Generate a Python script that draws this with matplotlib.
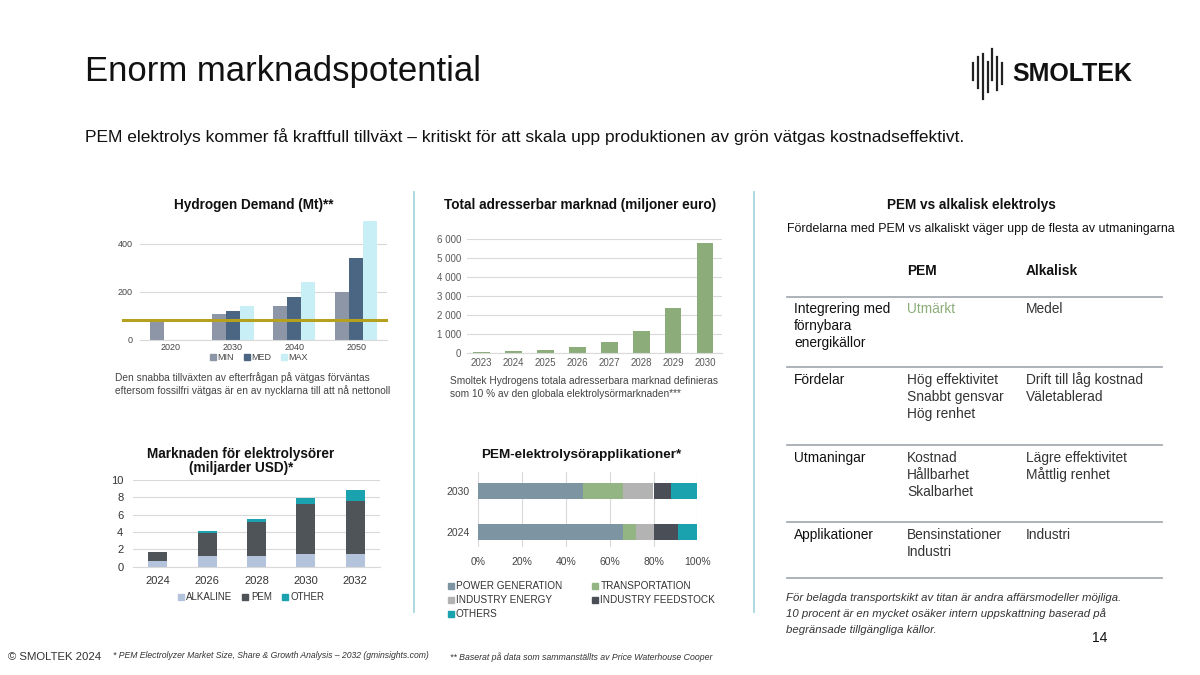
import matplotlib
matplotlib.use("Agg")
import matplotlib.pyplot as plt
from matplotlib.lines import Line2D
from matplotlib.ticker import FuncFormatter

plt.rcParams['font.family'] = ['Liberation Sans', 'DejaVu Sans']

W, H = 1200, 675

# ================================
# Data
# ================================
h2_years = ["2020", "2030", "2040", "2050"]
h2_min = [80, 110, 140, 200]
h2_med = [0, 120, 180, 340]
h2_max = [0, 140, 240, 495]
h2_today = 83

tam_years = ["2023", "2024", "2025", "2026", "2027", "2028", "2029", "2030"]
tam_values = [37, 75, 155, 300, 580, 1170, 2350, 5780]

ely_years = ["2024", "2026", "2028", "2030", "2032"]
ely_alkaline = [0.65, 1.2, 1.2, 1.5, 1.5]
ely_pem = [1.05, 2.65, 3.9, 5.7, 6.1]
ely_other = [0.0, 0.25, 0.45, 0.75, 1.25]

app_years = ["2024", "2030"]
app_labels = ["POWER GENERATION", "TRANSPORTATION", "INDUSTRY ENERGY",
              "INDUSTRY FEEDSTOCK", "OTHERS"]
app_2024 = [66, 6, 8, 11, 9]
app_2030 = [48, 18, 14, 8, 12]

tbl_rows = ["Integrering med\nförnybara\nenergikällor", "Fördelar", "Utmaningar", "Applikationer"]
tbl_pem = ["Utmärkt", "Hög effektivitet\nSnabbt gensvar\nHög renhet",
           "Kostnad\nHållbarhet\nSkalbarhet", "Bensinstationer\nIndustri"]
tbl_alk = ["Medel", "Drift till låg kostnad\nVäletablerad",
           "Lägre effektivitet\nMåttlig renhet", "Industri"]

# ================================
# Helpers (pixel coordinates, origin top-left)
# ================================
fig = plt.figure(figsize=(12, 6.75), dpi=100)
fig.patch.set_facecolor("white")


def ax_px(x0, y0, x1, y1):
    return fig.add_axes([x0 / W, 1 - y1 / H, (x1 - x0) / W, (y1 - y0) / H])


def txt(x, y, s, **kw):
    kw.setdefault("va", "center")
    return fig.text(x / W, 1 - y / H, s, **kw)


def hline(x0, x1, y, **kw):
    fig.add_artist(Line2D([x0 / W, x1 / W], [1 - y / H, 1 - y / H], **kw))


def vline(x, y0, y1, **kw):
    fig.add_artist(Line2D([x / W, x / W], [1 - y0 / H, 1 - y1 / H], **kw))


def clean(ax, grid_axis="y"):
    for s in ["top", "right", "left", "bottom"]:
        ax.spines[s].set_visible(False)
    ax.grid(True, axis=grid_axis, color="#d9d9d9", lw=0.8)
    ax.set_axisbelow(True)
    ax.tick_params(length=0)


def sq(color):
    return Line2D([], [], marker="s", ls="", color=color, markersize=4.5)


# ================================
# Header
# ================================
txt(85, 72, "Enorm marknadspotential", fontsize=25, color="#111111")
txt(85, 137, "PEM elektrolys kommer få kraftfull tillväxt – kritiskt för att skala upp "
    "produktionen av grön vätgas kostnadseffektivt.", fontsize=12.5, color="#111111")

# logo
logo_bars = [(973, 63, 80), (977.5, 57, 88), (982.5, 54, 99), (987.5, 62, 92),
             (992, 49, 80), (997, 57, 90), (1002, 63, 84)]
for x, y0, y1 in logo_bars:
    vline(x, y0, y1, color="#222222", lw=1.6)
txt(1012, 74, "SMOLTEK", fontsize=18, fontweight="heavy", color="#111111")

# dividers
vline(414, 192, 612, color="#a9d3df", lw=1.3)
vline(754, 192, 612, color="#a9d3df", lw=1.3)

# ================================
# Hydrogen Demand
# ================================
txt(254, 205, "Hydrogen Demand (Mt)**", fontsize=9.8, fontweight="bold", ha="center", color="#111")
ax1 = ax_px(140, 220, 387, 340)
clean(ax1)
x = range(len(h2_years))
bw = 0.226
ax1.bar([i - bw for i in x], h2_min, bw, color="#8c96a6", label="MIN")
ax1.bar(list(x), h2_med, bw, color="#4b6682", label="MED")
ax1.bar([i + bw for i in x], h2_max, bw, color="#c9eff6", label="MAX")
ax1.axhline(h2_today, xmin=-0.069, xmax=0.996, color="#b5a11e", lw=2.2, clip_on=False)
ax1.set_xlim(-0.5, 3.5)
ax1.set_ylim(0, 500)
ax1.set_yticks([0, 200, 400])
ax1.set_xticks(list(x))
ax1.set_xticklabels(h2_years)
ax1.tick_params(labelsize=6.5, colors="#444444")
ax1.tick_params(axis="y", pad=5)
ax1.tick_params(axis="x", pad=2.5)
ax1.spines["bottom"].set_visible(True)
ax1.spines["bottom"].set_color("#d9d9d9")
ax1.legend([sq("#8c96a6"), sq("#4b6682"), sq("#c9eff6")], ["MIN", "MED", "MAX"],
           loc="center", bbox_to_anchor=(259 / W, 1 - 358 / H), bbox_transform=fig.transFigure,
           ncol=3, frameon=False, fontsize=6.5, handlelength=0.6, handletextpad=0.15,
           columnspacing=1.2, labelcolor="#444444")
txt(115, 378, "Den snabba tillväxten av efterfrågan på vätgas förväntas", fontsize=7.3, color="#444")
txt(115, 391, "eftersom fossilfri vätgas är en av nycklarna till att nå nettonoll", fontsize=7.3, color="#444")

# ================================
# Total adresserbar marknad
# ================================
txt(580, 205, "Total adresserbar marknad (miljoner euro)", fontsize=9.8, fontweight="bold",
    ha="center", color="#111")
ax2 = ax_px(467, 239.3, 722, 352.7)
clean(ax2)
ax2.bar(range(len(tam_years)), tam_values, 0.52, color="#8cad7a")
ax2.set_xlim(-0.46, 7.53)
ax2.set_ylim(0, 6000)
ax2.set_yticks(range(0, 6001, 1000))
ax2.yaxis.set_major_formatter(FuncFormatter(lambda v, p: f"{int(v):,}".replace(",", " ")))
ax2.set_xticks(range(len(tam_years)))
ax2.set_xticklabels(tam_years)
ax2.tick_params(labelsize=7, colors="#595959")
ax2.tick_params(axis="y", pad=4.3)
ax2.tick_params(axis="x", pad=3.5)
ax2.spines["bottom"].set_visible(True)
ax2.spines["bottom"].set_color("#d9d9d9")
txt(450, 381, "Smoltek Hydrogens totala adresserbara marknad definieras", fontsize=7.3, color="#444")
txt(450, 393.5, "som 10 % av den globala elektrolysörmarknaden***", fontsize=7.3, color="#444")

# ================================
# Marknaden för elektrolysörer
# ================================
txt(241, 454, "Marknaden för elektrolysörer", fontsize=9.8, fontweight="bold", ha="center", color="#111")
txt(241, 468, "(miljarder USD)*", fontsize=9.8, fontweight="bold", ha="center", color="#111")
ax3 = ax_px(133, 480, 380, 566.7)
clean(ax3)
xi = range(len(ely_years))
bw3 = 0.385
bot2 = [a + p for a, p in zip(ely_alkaline, ely_pem)]
ax3.bar(xi, ely_alkaline, bw3, color="#b3c3db")
ax3.bar(xi, ely_pem, bw3, bottom=ely_alkaline, color="#4f5459")
ax3.bar(xi, ely_other, bw3, bottom=bot2, color="#1aa3ae")
ax3.set_xlim(-0.5, 4.5)
ax3.set_ylim(0, 10)
ax3.set_yticks(range(0, 11, 2))
ax3.set_xticks(list(xi))
ax3.set_xticklabels(ely_years)
ax3.tick_params(labelsize=8, colors="#333333")
ax3.tick_params(axis="y", pad=7)
ax3.tick_params(axis="x", pad=7)
ax3.spines["bottom"].set_visible(True)
ax3.spines["bottom"].set_color("#d9d9d9")
ax3.legend([sq("#b3c3db"), sq("#4f5459"), sq("#1aa3ae")], ["ALKALINE", "PEM", "OTHER"],
           loc="center", bbox_to_anchor=(251 / W, 1 - 597 / H), bbox_transform=fig.transFigure,
           ncol=3, frameon=False, fontsize=7, handlelength=0.6, handletextpad=0.3,
           columnspacing=1.0, labelcolor="#333333")

# ================================
# PEM-elektrolysörapplikationer
# ================================
txt(581, 455, "PEM-elektrolysörapplikationer*", fontsize=9.7, fontweight="bold", ha="center", color="#111")
ax4 = ax_px(478.3, 472, 697.3, 547)
clean(ax4, grid_axis="x")
app_colors = ["#7d95a3", "#93b483", "#b3b3b3", "#4a4f57", "#1aa3ae"]
left = [0, 0]
for k, lab in enumerate(app_labels):
    vals = [app_2024[k], app_2030[k]]
    ax4.barh(range(len(app_years)), vals, 0.39, left=left, color=app_colors[k], label=lab)
    left = [l + v for l, v in zip(left, vals)]
ax4.set_xlim(0, 100)
ax4.set_ylim(-0.37, 1.46)
ax4.set_xticks(range(0, 101, 20))
ax4.xaxis.set_major_formatter(FuncFormatter(lambda v, p: f"{int(v)}%"))
ax4.set_yticks(range(len(app_years)))
ax4.set_yticklabels(app_years)
ax4.tick_params(labelsize=7.5, colors="#444444")
ax4.tick_params(axis="x", pad=7)
ax4.tick_params(axis="y", pad=6)
order = [0, 2, 4, 1, 3]
ax4.legend([sq(app_colors[k]) for k in order], [app_labels[k] for k in order],
           loc="upper left", bbox_to_anchor=(448 / W, 1 - 581 / H), bbox_transform=fig.transFigure,
           ncol=2, frameon=False, fontsize=7.2, handlelength=0.6, handletextpad=0.2,
           columnspacing=3.0, labelspacing=0.42, labelcolor="#333333",
           borderaxespad=0, borderpad=0)

# ================================
# PEM vs alkalisk table
# ================================
txt(971, 205, "PEM vs alkalisk elektrolys", fontsize=9.8, fontweight="bold", ha="center", color="#111")
txt(787, 229, "Fördelarna med PEM vs alkaliskt väger upp de flesta av utmaningarna",
    fontsize=8.9, color="#111")
txt(907, 271, "PEM", fontsize=9.9, fontweight="bold", color="#111")
txt(1026, 271, "Alkalisk", fontsize=9.9, fontweight="bold", color="#111")
for yy in [297, 367, 445, 522, 578]:
    hline(787, 1162, yy, color="#a7adb3", lw=1.3)
row_y = [309, 380, 458, 535]
for r in range(len(tbl_rows)):
    for col_x, cell, colr in [(794, tbl_rows[r], "#111111"), (907, tbl_pem[r], "#333333"),
                              (1026, tbl_alk[r], "#333333")]:
        if cell == "Utmärkt":
            colr = "#8cad7a"
        for j, line in enumerate(cell.split("\n")):
            txt(col_x, row_y[r] + 17 * j, line, fontsize=9.9, color=colr)

txt(786, 598, "För belagda transportskikt av titan är andra affärsmodeller möjliga.",
    fontsize=8.2, style="italic", color="#333")
txt(786, 614, "10 procent är en mycket osäker intern uppskattning baserad på",
    fontsize=8.2, style="italic", color="#333")
txt(786, 630, "begränsade tillgängliga källor.", fontsize=8.2, style="italic", color="#333")
txt(1100, 638, "14", fontsize=10, ha="center", color="#111")

# ================================
# Footer
# ================================
txt(8, 657, "© SMOLTEK 2024", fontsize=8.2, color="#333")
txt(113, 655, "* PEM Electrolyzer Market Size, Share & Growth Analysis – 2032 (gminsights.com)",
    fontsize=6.25, style="italic", color="#333")
txt(450, 657, "** Baserat på data som sammanställts av Price Waterhouse Cooper",
    fontsize=6.3, style="italic", color="#333")

fig.savefig("out.png", dpi=100, facecolor="white")
